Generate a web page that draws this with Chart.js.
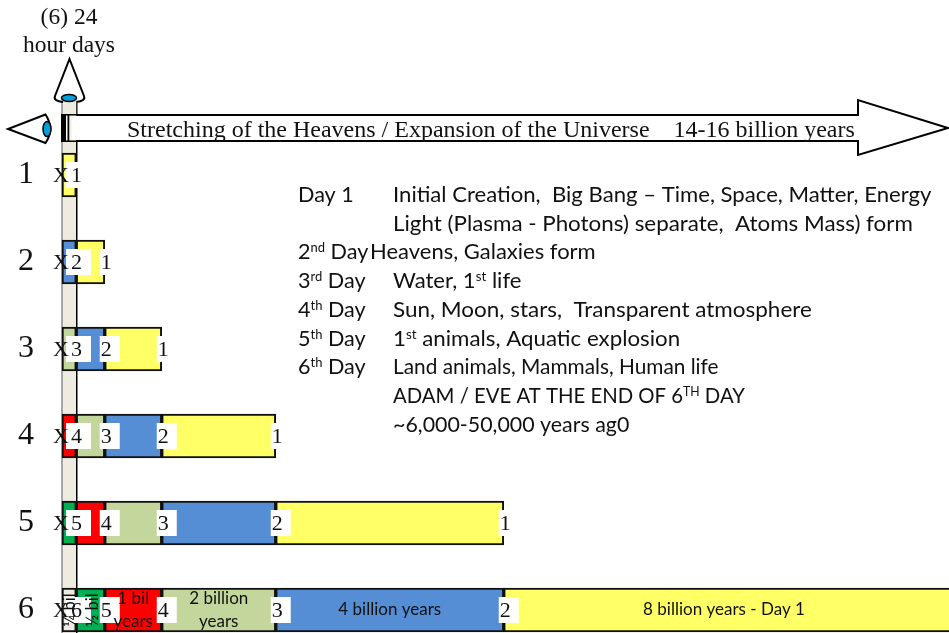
<!DOCTYPE html>
<html>
<head>
<meta charset="utf-8">
<style>html,body{margin:0;padding:0;background:#fff;overflow:hidden}canvas{display:block}</style>
<script src="https://cdn.jsdelivr.net/npm/chart.js@4/dist/chart.umd.min.js"></script>
</head>
<body>
<canvas id="c" width="949" height="633"></canvas>
<script>
// Rows of the chart
const rows = ['1','2','3','4','5','6'];
// Length of each day, in billions of years, per row
const day6 = [null,null,null,null,null,0.25];
const day5 = [null,null,null,null,0.25,0.5];
const day4 = [null,null,null,0.25,0.5,1];
const day3 = [null,null,0.25,0.5,1,2];
const day2 = [null,0.25,0.5,1,2,4];
const day1 = [0.25,0.5,1,2,4,8];
const dayNumbers = ['6','5','4','3','2','1'];
const dayColors = ['#EEECE1','#00B050','#FF0000','#C3D69B','#558ED5','#FFFF66'];
// Notes written inside the bars of the last row, one list per day
const lastRowNotes = [['¼ bil'],['½ bil'],['1 bil','years'],['2 billion','years'],['4 billion years'],['8 billion years - Day 1']];
const upLabel = ['(6) 24','hour days'];
const arrowLabel = 'Stretching of the Heavens / Expansion of the Universe    14-16 billion years';
// Legend text: [left column, right column]; ^ marks a superscript run
const dayNotes = [
  ['Day 1','Initial Creation,  Big Bang – Time, Space, Matter, Energy'],
  ['','Light (Plasma - Photons) separate,  Atoms Mass) form'],
  ['2^nd^ Day','Heavens, Galaxies form'],
  ['3^rd^ Day','Water, 1^st^ life'],
  ['4^th^ Day','Sun, Moon, stars,  Transparent atmosphere'],
  ['5^th^ Day','1^st^ animals, Aquatic explosion'],
  ['6^th^ Day','Land animals, Mammals, Human life'],
  ['','ADAM / EVE AT THE END OF 6^TH^ DAY'],
  ['','~6,000-50,000 years ag0']
];
const noteStretch = [1.025,1.036,1.018,1.024,1.04,1.032,0.964,0.941,0.99];

const serif = '"Liberation Serif"';
const sans = 'Lato';
const days = [day6,day5,day4,day3,day2,day1];

function runs(ctx, str, x, y, size, sx){
  const parts = str.split('^');
  ctx.save();
  ctx.translate(x,y); ctx.scale(sx,1);
  let cx=0;
  parts.forEach((p,i)=>{
    const sup = i%2===1;
    ctx.font = (sup? Math.round(size*0.62): size)+'px '+sans;
    ctx.textBaseline='alphabetic'; ctx.textAlign='left';
    ctx.fillText(p, cx, sup? -size*0.32: 0);
    cx += ctx.measureText(p).width;
  });
  ctx.restore();
}
function path(ctx, fn, fill, lw){
  ctx.beginPath(); fn(); 
  if(fill){ctx.fillStyle=fill;ctx.fill();}
  if(lw){ctx.lineWidth=lw;ctx.strokeStyle='#000';ctx.stroke();}
}

const backdrop = {
  id:'backdrop',
  beforeDatasetsDraw(chart){
    const ctx=chart.ctx, xs=chart.scales.x;
    const L=xs.getPixelForValue(0), R=xs.getPixelForValue(0.25);
    ctx.save();
    ctx.fillStyle='#EEECE1'; ctx.fillRect(L,98,R-L,535);
    ctx.strokeStyle='#8c8c8c'; ctx.lineWidth=1.5;
    ctx.beginPath(); ctx.moveTo(L,98); ctx.lineTo(L,633); ctx.stroke();
    ctx.strokeStyle='#000'; ctx.lineWidth=1.5;
    ctx.beginPath(); ctx.moveTo(R+0.5,98); ctx.lineTo(R+0.5,633); ctx.stroke();
    ctx.restore();
  }
};
const overlay = {
  id:'overlay',
  afterDatasetsDraw(chart){
    const ctx=chart.ctx, xs=chart.scales.x;
    const L=xs.getPixelForValue(0), R=xs.getPixelForValue(0.25);
    ctx.save();
    ctx.lineJoin='miter';
    // right arrow
    path(ctx,()=>{ctx.moveTo(R,115);ctx.lineTo(858,115);ctx.lineTo(858,100);ctx.lineTo(948,128);ctx.lineTo(858,155);ctx.lineTo(858,141);ctx.lineTo(R,141);},'#fff',2);
    ctx.fillStyle='#fff'; ctx.fillRect(L-1,116,R-L+2,24);
    ctx.fillStyle='#000'; ctx.fillRect(61,114,5,28); ctx.fillRect(67.5,114,2,28);
    ctx.fillRect(66,114,12,1.5); ctx.fillRect(66,140.5,12,1.5);
    ctx.fillStyle='#EEECE1'; ctx.fillRect(69.5,116,2,24);
    // left arrow
    path(ctx,()=>{ctx.moveTo(45.5,114.5);ctx.lineTo(8,129);ctx.lineTo(45.5,143);ctx.quadraticCurveTo(55,129,45.5,114.5);ctx.closePath();},'#fff',2);
    path(ctx,()=>ctx.ellipse(47,129,4,7.5,0,0,Math.PI*2),'#00A0DC',1.5);
    // up arrow
    path(ctx,()=>{ctx.moveTo(69.5,59);ctx.lineTo(84,96);ctx.quadraticCurveTo(86,101,76,102);ctx.lineTo(63,102);ctx.quadraticCurveTo(53,101,55,96);ctx.closePath();},'#fff',2);
    ctx.fillStyle='#EEECE1'; ctx.fillRect(L+1,101,R-L-1,13);
    ctx.strokeStyle='#000';
    path(ctx,()=>ctx.ellipse(69,98,7.5,3.5,0,0,Math.PI*2),'#00A0DC',1.5);

    ctx.fillStyle='#111';
    ctx.font='23.5px '+serif; ctx.textAlign='center'; ctx.textBaseline='middle';
    upLabel.forEach((t,i)=>ctx.fillText(t,69,18+i*28));
    ctx.font='24px '+serif; ctx.textAlign='left';
    ctx.fillText(arrowLabel,127,131);

    // day numbers at the end of each segment
    chart.data.datasets.forEach((ds,di)=>{
      const bars=chart.getDatasetMeta(di).data;
      bars.forEach((bar,ri)=>{
        if(ds.data[ri]===null||bar.x===undefined) return;
        const first = bar.x < R+1;
        const bx = first ? 66 : bar.x-5;
        const bw = first ? 25 : (dayNumbers[di]==='1' ? 9 : 20);
        ctx.fillStyle='#fff'; ctx.fillRect(bx,bar.y-13,bw,26);
        ctx.fillStyle='#111'; ctx.font='22px '+serif; ctx.textAlign='left'; ctx.textBaseline='middle';
        ctx.fillText(dayNumbers[di], first?71:bar.x-4, bar.y+1.5);
        if(first && ri<5){ ctx.fillText('X',53,bar.y+1.5); }
      });
    });
    // notes inside the last row
    const last=rows.length-1;
    ctx.fillStyle='#111';
    lastRowNotes.forEach((lines,di)=>{
      const bar=chart.getDatasetMeta(di).data[last];
      const a=bar.base, b=bar.x, cx=(a+b)/2, cy=bar.y;
      ctx.textBaseline='middle'; ctx.textAlign='center';
      if(di<2){
        ctx.save(); ctx.translate(di===0?70:93,cy); ctx.rotate(-Math.PI/2);
        ctx.font='16.5px '+sans; ctx.fillText(lines[0],0,0); ctx.restore();
      } else {
        ctx.font='17px '+sans;
        const cxx = di===5 ? 724 : cx;
        lines.forEach((t,i)=>ctx.fillText(t,cxx,cy+(lines.length>1?(i===0?-11.5:12):0)));
      }
    });
    const y6=chart.getDatasetMeta(0).data[last].y;
    ctx.fillStyle='#111'; ctx.font='22px '+serif; ctx.textAlign='left'; ctx.textBaseline='middle';
    ctx.fillText('X',53,y6+1.5);
    // description block
    ctx.fillStyle='#111';
    dayNotes.forEach((n,i)=>{
      const y=202+i*28.7;
      if(n[0]) runs(ctx,n[0],298,y,21.6,1);
      runs(ctx,n[1],i===2?370:393,y,21.6,noteStretch[i]);
    });
    ctx.restore();
  }
};

new Chart(document.getElementById('c'),{
  type:'bar',
  data:{
    labels:rows,
    datasets:days.map((d,i)=>({
      label:'Day '+dayNumbers[i],
      data:d,
      backgroundColor:dayColors[i],
      borderColor:'#111',
      borderWidth:2,
      borderSkipped:false,
      barThickness:44,
      clip:false
    }))
  },
  options:{
    indexAxis:'y',
    responsive:false,
    animation:false,
    layout:{padding:{top:175,bottom:23,left:18,right:0}},
    plugins:{legend:{display:false},tooltip:{enabled:false}},
    scales:{
      x:{display:false,stacked:true,min:0,max:887/57},
      y:{
        stacked:true,offset:false,
        afterFit(s){s.width=44;},
        border:{display:false},
        grid:{display:false,drawTicks:false},
        ticks:{autoSkip:false,padding:0,crossAlign:'far',color:'#111',font:{family:serif,size:32}}
      }
    }
  },
  plugins:[backdrop,overlay]
});
</script>
</body>
</html>
